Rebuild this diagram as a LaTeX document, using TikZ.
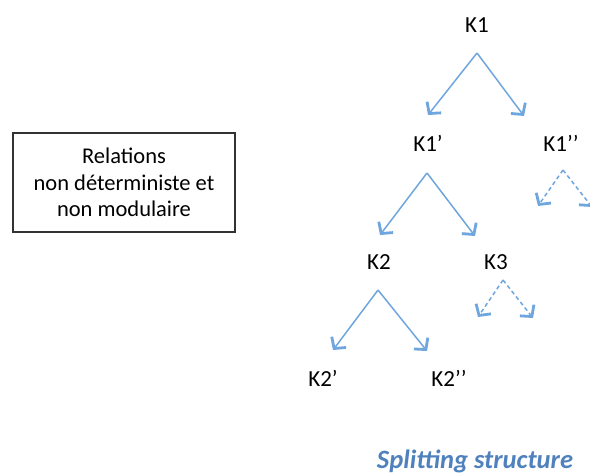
\documentclass[tikz,border=0pt]{standalone}
\usepackage{fontspec}
\setmainfont{Carlito}
\usetikzlibrary{arrows.meta}
\definecolor{arrblue}{RGB}{111,166,222}
\definecolor{titleblue}{RGB}{79,129,189}
\definecolor{boxgray}{RGB}{50,50,50}
\begin{document}
\begin{tikzpicture}[x=1pt,y=-1pt,
  lab/.style={font=\fontsize{23}{27}\selectfont, inner sep=0pt},
  arr/.style={draw=arrblue, line width=1.5pt, -{Straight Barb[length=8pt,width=18pt,line width=2.8pt]}},
  darr/.style={arr, dash pattern=on 4pt off 3pt}]
\useasboundingbox (0,0) rectangle (590,475);
% labels
\node[lab] (K1) at (477,25) {K1};
\node[lab] (K1p) at (428,143) {K1’};
\node[lab] (K1pp) at (561,143) {K1’’};
\node[lab] (K2) at (379,262) {K2};
\node[lab] (K3) at (496,262) {K3};
\node[lab] (K2p) at (323,378) {K2’};
\node[lab] (K2pp) at (449,378) {K2’’};
% box
\node[draw=boxgray, line width=1.2pt, minimum width=222, minimum height=99, align=center,
      font=\fontsize{22.5}{26.5}\selectfont] (box) at (124,182.5)
      {Relations\\non déterministe et\\non modulaire};
% title
\node[font=\fontsize{26.5}{30}\selectfont\bfseries\itshape, text=titleblue] (title) at (475,461) {Splitting structure};
% arrow coordinates
\coordinate (a1) at (477,53);
\coordinate (e1l) at (428,115);
\coordinate (e1r) at (524,116);
\coordinate (a2) at (427,173);
\coordinate (e2l) at (380,235);
\coordinate (e2r) at (475,236);
\coordinate (a3) at (563,170);
\coordinate (e3l) at (538,206);
\coordinate (e3r) at (592,207);
\coordinate (a4) at (378,290);
\coordinate (e4l) at (333,350);
\coordinate (e4r) at (427,351);
\coordinate (a5) at (503,280);
\coordinate (e5l) at (478,317);
\coordinate (e5r) at (533,318);
\draw[arr] (a1) -- (e1l);
\draw[arr] (a1) -- (e1r);
\draw[arr] (a2) -- (e2l);
\draw[arr] (a2) -- (e2r);
\draw[darr] (a3) -- (e3l);
\draw[darr] (a3) -- (e3r);
\draw[arr] (a4) -- (e4l);
\draw[arr] (a4) -- (e4r);
\draw[darr] (a5) -- (e5l);
\draw[darr] (a5) -- (e5r);
\end{tikzpicture}
\end{document}
